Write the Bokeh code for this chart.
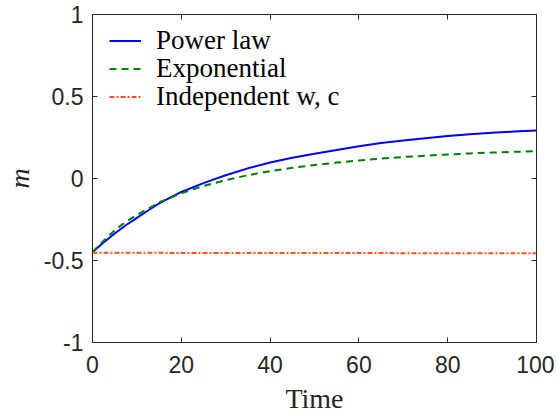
from bokeh.plotting import figure
from bokeh.models import LinearAxis, FixedTicker, Legend, LegendItem, Range1d
from bokeh.embed import file_html
from bokeh.resources import INLINE

# ---- data ----
time_power = [0, 1, 2.5, 5, 7.5, 10, 12.5, 15, 20, 25, 30, 35, 40, 45, 50, 55, 60, 65, 70, 75, 80, 85, 90, 95, 100]
m_power = [-0.45, -0.425, -0.39, -0.335, -0.285, -0.24, -0.195, -0.152, -0.082, -0.028, 0.02, 0.062, 0.097,
           0.126, 0.151, 0.174, 0.197, 0.216, 0.232, 0.246, 0.259, 0.27, 0.279, 0.286, 0.292]

time_exp = [0, 1, 2.5, 5, 7.5, 10, 12.5, 15, 20, 25, 30, 35, 40, 45, 50, 55, 60, 65, 70, 75, 80, 85, 90, 95, 100]
m_exp = [-0.45, -0.42, -0.38, -0.315, -0.265, -0.222, -0.185, -0.145, -0.09, -0.045, -0.01, 0.02, 0.045,
         0.065, 0.082, 0.097, 0.11, 0.121, 0.131, 0.139, 0.146, 0.153, 0.158, 0.163, 0.166]

time_indep = [0, 100]
m_indep = [-0.453, -0.456]

series_labels = ["Power law", "Exponential", "Independent w, c"]

x_ticks = [0, 20, 40, 60, 80, 100]
x_tick_labels = ["0", "20", "40", "60", "80", "100"]
y_ticks = [-1, -0.5, 0, 0.5, 1]
y_tick_labels = ["-1", "-0.5", "0", "0.5", "1"]

AX = "#262626"
TICK_FONT = "Liberation Sans"
SERIF = "Liberation Serif"

p = figure(frame_width=444, frame_height=328,
           min_border_left=88, min_border_right=18, min_border_top=14, min_border_bottom=72,
           x_range=Range1d(0, 100), y_range=Range1d(-1, 1),
           output_backend="svg", toolbar_location=None,
           background_fill_color="white", border_fill_color="white")
p.outline_line_color = AX
p.outline_line_width = 1
p.xgrid.visible = False
p.ygrid.visible = False

def style_axis(ax, ticks, labels, show_labels=True):
    ax.ticker = FixedTicker(ticks=ticks)
    if show_labels:
        ax.major_label_overrides = {t: l for t, l in zip(ticks, labels)}
    else:
        ax.major_label_overrides = {t: "" for t in ticks}
        ax.major_label_standoff = 0
    ax.axis_line_color = AX
    ax.axis_line_width = 1
    ax.major_tick_line_color = AX
    ax.major_tick_in = 5
    ax.major_tick_out = 0
    ax.minor_tick_line_color = None
    ax.major_label_text_font = TICK_FONT
    ax.major_label_text_font_size = "23px" if show_labels else "1px"
    ax.major_label_text_color = AX
    ax.axis_label_text_font = SERIF
    ax.axis_label_text_font_size = "28px"
    ax.axis_label_text_font_style = "normal"
    ax.axis_label_text_color = AX

style_axis(p.xaxis[0], x_ticks, x_tick_labels)
style_axis(p.yaxis[0], y_ticks, y_tick_labels)
p.xaxis[0].axis_label = "Time"
p.xaxis[0].major_label_standoff = 13
p.xaxis[0].axis_label_standoff = 7
p.yaxis[0].axis_label = "m"
p.yaxis[0].axis_label_text_font_style = "italic"
p.yaxis[0].major_label_standoff = 9
p.yaxis[0].axis_label_standoff = 6

top = LinearAxis()
style_axis(top, x_ticks, x_tick_labels, show_labels=False)
p.add_layout(top, "above")
right = LinearAxis()
style_axis(right, y_ticks, y_tick_labels, show_labels=False)
p.add_layout(right, "right")

r1 = p.line(time_power, m_power, line_color="#0000ff", line_width=2)
r2 = p.line(time_exp, m_exp, line_color="#008000", line_width=2, line_dash="7 5")
r3 = p.line(time_indep, m_indep, line_color="#ff5020", line_width=2, line_dash="5 2 2 2")

# one single-row legend per series so that the row pitch matches the reference
legend_rows = [(r1, series_labels[0], 286), (r2, series_labels[1], 258), (r3, series_labels[2], 230)]
for rend, lab, ypos in legend_rows:
    lg = Legend(items=[LegendItem(label=lab, renderers=[rend])], location=(17, ypos))
    lg.border_line_color = None
    lg.background_fill_alpha = 0
    lg.margin = 0
    lg.padding = 0
    lg.spacing = 0
    lg.glyph_width = 32
    lg.glyph_height = 27
    lg.label_height = 27
    lg.label_standoff = 15
    lg.label_text_font = SERIF
    lg.label_text_font_size = "27px"
    lg.label_text_color = "black"
    p.add_layout(lg)

open("out.html", "w").write(file_html(p, INLINE))
